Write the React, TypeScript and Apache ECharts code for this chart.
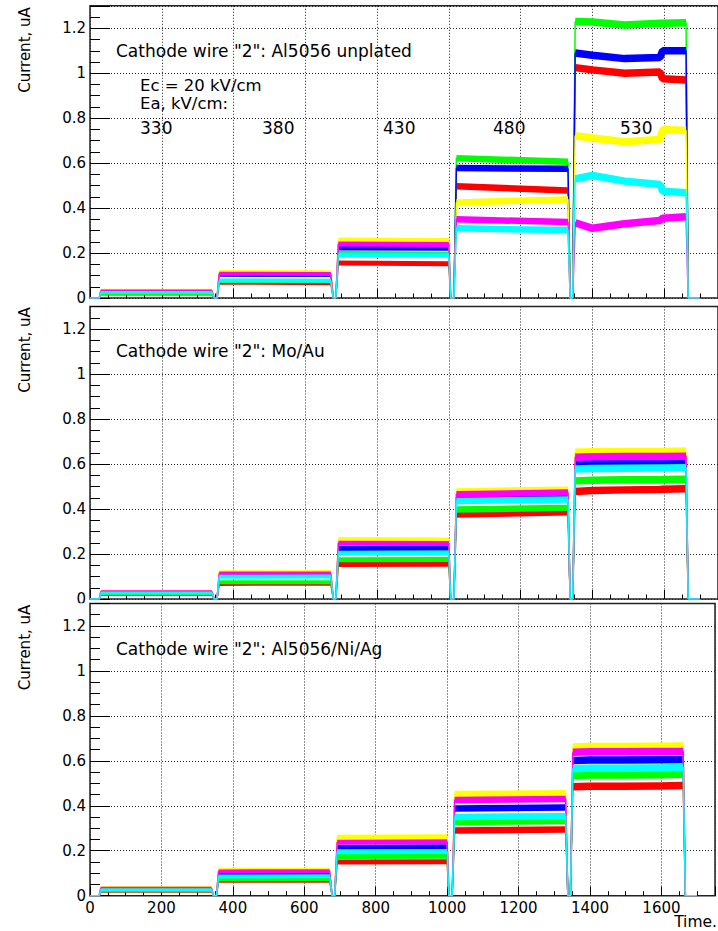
import { useEffect, useRef } from "react";
import * as echarts from "echarts";

const FONT = "'DejaVu Sans', 'Liberation Sans', sans-serif";

// ---- texts ----
const panelTitles = [
  'Cathode wire "2": Al5056 unplated',
  'Cathode wire "2": Mo/Au',
  'Cathode wire "2": Al5056/Ni/Ag',
];
const cathodeFieldText = "Ec = 20 kV/cm";
const anodeFieldText = "Ea, kV/cm:";
const anodeFieldLabels = ["330", "380", "430", "480", "530"];
const yAxisTitle = "Current, uA";
const xAxisTitle = "Time.";

// ---- time structure (x values) ----
// readings on each plateau (time of each reading)
const plateauTimes = [
  [30, 340],
  [360, 671],
  [692, 1000],
  [1021, 1332],
  [1352, 1400, 1490, 1588, 1596, 1661],
];
// zero-current points between plateaus
const gapTimes = [
  [0, 26],
  [346, 354],
  [678, 685],
  [1005, 1014],
  [1338, 1345],
  [1667, 1699],
];

// ---- Panel 1: Al5056 unplated ----
const unplatedRed = [[0.018, 0.018], [0.068, 0.066], [0.156, 0.152], [0.497, 0.478], [1.025, 1.015, 1.0, 1.005, 0.975, 0.97]];
const unplatedGreen = [[0.02, 0.02], [0.075, 0.074], [0.198, 0.195], [0.622, 0.606], [1.23, 1.228, 1.215, 1.222, 1.222, 1.225]];
const unplatedBlue = [[0.028, 0.028], [0.103, 0.102], [0.222, 0.221], [0.578, 0.575], [1.09, 1.08, 1.065, 1.07, 1.1, 1.1]];
const unplatedYellow = [[0.034, 0.034], [0.116, 0.115], [0.258, 0.256], [0.425, 0.438], [0.722, 0.712, 0.695, 0.705, 0.75, 0.745]];
const unplatedMagenta = [[0.031, 0.031], [0.108, 0.107], [0.24, 0.238], [0.35, 0.338], [0.335, 0.31, 0.33, 0.345, 0.355, 0.362]];
const unplatedCyan = [[0.025, 0.025], [0.078, 0.077], [0.191, 0.19], [0.31, 0.302], [0.53, 0.545, 0.52, 0.505, 0.475, 0.468]];

// ---- Panel 2: Mo/Au ----
const moauRed = [[0.02, 0.02], [0.067, 0.068], [0.153, 0.155], [0.375, 0.385], [0.478, 0.482, 0.485, 0.487, 0.488, 0.49]];
const moauGreen = [[0.022, 0.022], [0.074, 0.075], [0.174, 0.176], [0.398, 0.405], [0.525, 0.528, 0.53, 0.53, 0.531, 0.532]];
const moauBlue = [[0.029, 0.029], [0.104, 0.105], [0.225, 0.226], [0.452, 0.458], [0.6, 0.602, 0.603, 0.604, 0.604, 0.605]];
const moauYellow = [[0.035, 0.035], [0.119, 0.12], [0.265, 0.262], [0.478, 0.486], [0.652, 0.655, 0.656, 0.656, 0.656, 0.658]];
const moauMagenta = [[0.032, 0.032], [0.113, 0.113], [0.248, 0.247], [0.466, 0.473], [0.63, 0.632, 0.633, 0.633, 0.633, 0.635]];
const moauCyan = [[0.027, 0.027], [0.099, 0.1], [0.203, 0.204], [0.436, 0.442], [0.578, 0.58, 0.581, 0.582, 0.582, 0.583]];

// ---- Panel 3: Al5056/Ni/Ag ----
const niagRed = [[0.02, 0.02], [0.066, 0.066], [0.15, 0.151], [0.29, 0.295], [0.485, 0.487, 0.487, 0.488, 0.488, 0.49]];
const niagGreen = [[0.022, 0.022], [0.072, 0.073], [0.174, 0.175], [0.328, 0.332], [0.535, 0.537, 0.537, 0.538, 0.538, 0.54]];
const niagBlue = [[0.03, 0.03], [0.1, 0.1], [0.216, 0.218], [0.388, 0.392], [0.602, 0.604, 0.604, 0.605, 0.605, 0.606]];
const niagYellow = [[0.036, 0.036], [0.116, 0.116], [0.26, 0.262], [0.452, 0.456], [0.662, 0.664, 0.664, 0.665, 0.665, 0.666]];
const niagMagenta = [[0.033, 0.033], [0.108, 0.109], [0.238, 0.24], [0.426, 0.43], [0.638, 0.64, 0.64, 0.641, 0.641, 0.642]];
const niagCyan = [[0.027, 0.027], [0.085, 0.086], [0.196, 0.197], [0.35, 0.354], [0.565, 0.567, 0.567, 0.568, 0.568, 0.57]];

const panels = [
  [unplatedRed, unplatedGreen, unplatedBlue, unplatedYellow, unplatedMagenta, unplatedCyan],
  [moauRed, moauGreen, moauBlue, moauYellow, moauMagenta, moauCyan],
  [niagRed, niagGreen, niagBlue, niagYellow, niagMagenta, niagCyan],
];

// ---- styles / layout ----
const traceColors = ["#ff0000", "#00ff00", "#0000ff", "#ffff00", "#ff00ff", "#00ffff"];
const bandWidths = [3, 4, 5, 6.5, 7.5];
const gridTops = [5.8, 306.5, 603.5];
const gridHeights = [292.2, 292.5, 292.2];
const GRID_LEFT = 90;
const GRID_WIDTH = 631;
const X_MAX = 1750;
const Y_MAX = 1.3;

export default function App() {
  const ref = useRef<HTMLDivElement>(null);

  useEffect(() => {
    if (!ref.current) return;
    const chart = echarts.init(ref.current, null, { renderer: "svg" });

    const grid: any[] = [];
    const xAxis: any[] = [];
    const yAxis: any[] = [];
    const series: any[] = [];
    const dotted = { show: true, lineStyle: { color: "#222", width: 1, type: [1, 2] } };

    panels.forEach((panel, p) => {
      grid.push({
        left: GRID_LEFT,
        top: gridTops[p],
        width: GRID_WIDTH,
        height: gridHeights[p],
        show: true,
        borderColor: "#222",
        borderWidth: 1.5,
        backgroundColor: "transparent",
      });
      xAxis.push({
        type: "value",
        gridIndex: p,
        position: "bottom",
        min: 0,
        max: X_MAX,
        interval: 200,
        axisLine: { show: false },
        axisTick: { show: true, inside: true, length: 9, lineStyle: { color: "#000", width: 1 } },
        axisLabel: {
          show: p === 2,
          fontFamily: FONT,
          fontSize: 15,
          color: "#000",
          margin: 5,
          formatter: (v: number) => (v % 200 === 0 ? String(v) : ""),
        },
        splitLine: dotted,
      });
      xAxis.push({
        type: "value",
        gridIndex: p,
        position: "bottom",
        min: 0,
        max: X_MAX,
        interval: 50,
        axisLine: { show: false },
        axisTick: { show: true, inside: true, length: 4.5, lineStyle: { color: "#000", width: 1 } },
        axisLabel: { show: false },
        splitLine: { show: false },
      });
      yAxis.push({
        type: "value",
        gridIndex: p,
        position: "left",
        min: 0,
        max: Y_MAX,
        interval: 0.2,
        axisLine: { show: false },
        axisTick: { show: true, inside: true, length: 20, lineStyle: { color: "#000", width: 1 } },
        axisLabel: {
          fontFamily: FONT,
          fontSize: 15,
          color: "#000",
          margin: 4,
          padding: [5, 0, 0, 0],
          formatter: (v: number) =>
            Math.abs(v * 5 - Math.round(v * 5)) < 1e-6 ? String(Math.round(v * 10) / 10) : "",
        },
        splitLine: dotted,
      });
      yAxis.push({
        type: "value",
        gridIndex: p,
        position: "left",
        min: 0,
        max: Y_MAX,
        interval: 0.05,
        axisLine: { show: false },
        axisTick: { show: true, inside: true, length: 10, lineStyle: { color: "#000", width: 1 } },
        axisLabel: { show: false },
        splitLine: { show: false },
      });

      panel.forEach((vals, c) => {
        const color = traceColors[c];
        const pts: number[][] = [];
        for (let k = 0; k < plateauTimes.length; k++) {
          gapTimes[k].forEach((t) => pts.push([t, 0]));
          plateauTimes[k].forEach((t, j) => pts.push([t, vals[k][j]]));
        }
        gapTimes[gapTimes.length - 1].forEach((t) => pts.push([t, 0]));
        series.push({
          type: "line",
          xAxisIndex: 2 * p,
          yAxisIndex: 2 * p,
          data: pts,
          symbol: "none",
          showSymbol: false,
          silent: true,
          lineStyle: { color, width: 1.5 },
        });
        plateauTimes.forEach((times, k) => {
          series.push({
            type: "line",
            xAxisIndex: 2 * p,
            yAxisIndex: 2 * p,
            data: times.map((t, j) => [t, vals[k][j]]),
            symbol: "none",
            showSymbol: false,
            silent: true,
            lineStyle: { color, width: bandWidths[k], cap: "butt" },
          });
        });
      });
    });

    const titleYs = [51, 351, 649];
    const yTitleYs = [50, 350, 647.5];
    const fieldXs = [140, 262, 383, 493, 620];
    const graphic: any[] = [
      { type: "rect", z: 100, shape: { x: 0, y: 303, width: 89, height: 3.2 }, style: { fill: "#fff" } },
      { type: "rect", z: 100, shape: { x: 0, y: 603.3, width: 89, height: 4.5 }, style: { fill: "#fff" } },
    ];
    panelTitles.forEach((t, p) => {
      graphic.push({
        type: "text",
        z: 100,
        x: 116,
        y: titleYs[p],
        style: { text: t, fontFamily: FONT, fontSize: 17, fill: "#000", verticalAlign: "middle" },
      });
      graphic.push({
        type: "text",
        z: 100,
        x: 25,
        y: yTitleYs[p],
        rotation: Math.PI / 2,
        style: { text: yAxisTitle, fontFamily: FONT, fontSize: 15, fill: "#000", align: "center", verticalAlign: "middle" },
      });
    });
    graphic.push({
      type: "text",
      z: 100,
      x: 140,
      y: 85.5,
      style: { text: cathodeFieldText, fontFamily: FONT, fontSize: 16.5, fill: "#000", verticalAlign: "middle" },
    });
    graphic.push({
      type: "text",
      z: 100,
      x: 140,
      y: 103,
      style: { text: anodeFieldText, fontFamily: FONT, fontSize: 16.5, fill: "#000", verticalAlign: "middle" },
    });
    anodeFieldLabels.forEach((t, i) => {
      graphic.push({
        type: "text",
        z: 100,
        x: fieldXs[i],
        y: 127.8,
        style: { text: t, fontFamily: FONT, fontSize: 17, fill: "#000", verticalAlign: "middle" },
      });
    });
    graphic.push({
      type: "text",
      z: 100,
      x: 717,
      y: 922,
      style: { text: xAxisTitle, fontFamily: FONT, fontSize: 15.5, fill: "#000", align: "right", verticalAlign: "middle" },
    });

    chart.setOption({
      animation: false,
      backgroundColor: "#fff",
      grid,
      xAxis,
      yAxis,
      series,
      graphic,
    });

    return () => chart.dispose();
  }, []);

  return (
    <div
      ref={ref}
      style={{ position: "fixed", left: 0, top: 0, width: 718, height: 931 }}
    />
  );
}
